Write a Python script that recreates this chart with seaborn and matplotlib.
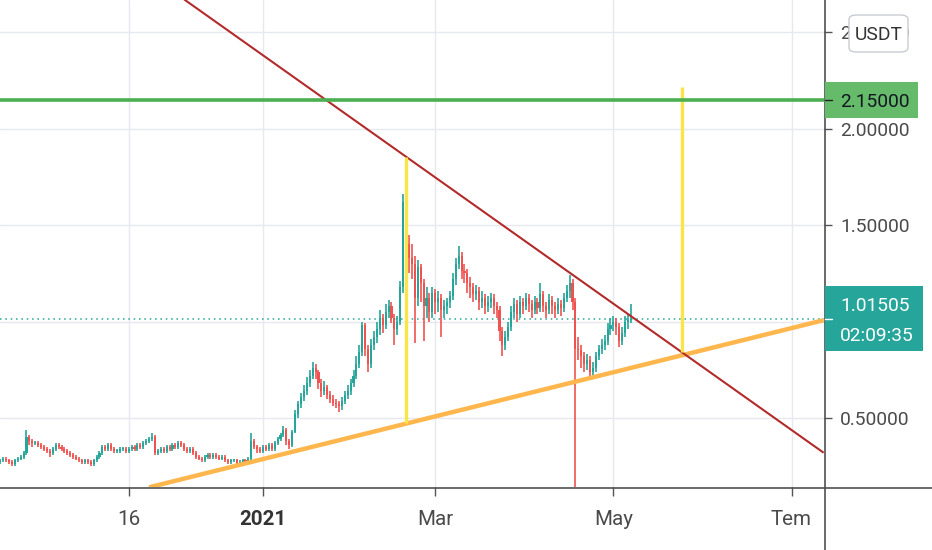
import matplotlib
matplotlib.use("Agg")
import matplotlib.pyplot as plt
import matplotlib.dates as mdates
from matplotlib.lines import Line2D
from matplotlib.patches import Rectangle, FancyBboxPatch
from matplotlib.transforms import blended_transform_factory
import numpy as np
import pandas as pd
import seaborn as sns

# daily candles, last one is 2021-05-07 (open = previous close)
first_open = 0.27
closes = [
    0.28, 0.29, 0.28, 0.27, 0.26, 0.28, 0.29, 0.30, 0.32, 0.40,
    0.38, 0.37, 0.37, 0.36, 0.35, 0.34, 0.33, 0.32, 0.34, 0.36,
    0.35, 0.34, 0.33, 0.32, 0.31, 0.30, 0.29, 0.28, 0.27, 0.28,
    0.27, 0.26, 0.28, 0.30, 0.32, 0.35, 0.34, 0.36, 0.34, 0.33,
    0.33, 0.34, 0.34, 0.33, 0.34, 0.35, 0.34, 0.36, 0.35, 0.37,
    0.38, 0.39, 0.40, 0.32, 0.33, 0.34, 0.33, 0.35, 0.34, 0.36,
    0.35, 0.37, 0.36, 0.34, 0.33, 0.34, 0.32, 0.30, 0.29, 0.28,
    0.30, 0.31, 0.30, 0.31, 0.30, 0.29, 0.30, 0.28, 0.27, 0.28,
    0.28, 0.26, 0.27, 0.28, 0.27, 0.29, 0.38, 0.35, 0.34, 0.33,
    0.35, 0.34, 0.36, 0.34, 0.37, 0.39, 0.41, 0.44, 0.38, 0.36,
    0.43, 0.52, 0.57, 0.61, 0.64, 0.68, 0.72, 0.76, 0.74, 0.68,
    0.64, 0.66, 0.62, 0.60, 0.58, 0.57, 0.56, 0.59, 0.62, 0.64,
    0.68, 0.72, 0.78, 0.84, 0.98, 0.86, 0.78, 0.88, 0.92, 0.96,
    1.02, 0.98, 1.05, 1.08, 1.02, 0.96, 1.00, 1.18, 1.62, 1.40,
    1.33, 1.30, 1.12, 1.28, 1.20, 1.08, 1.12, 1.05, 1.15, 1.10,
    1.12, 1.06, 1.08, 1.10, 1.13, 1.22, 1.30, 1.34, 1.26, 1.25,
    1.20, 1.18, 1.14, 1.16, 1.10, 1.12, 1.08, 1.10, 1.12, 1.08,
    1.06, 0.95, 0.88, 0.92, 0.97, 1.05, 1.09, 1.04, 1.10, 1.08,
    1.12, 1.09, 1.06, 1.10, 1.07, 1.14, 1.08, 1.06, 1.11, 1.08,
    1.06, 1.09, 1.07, 1.12, 1.16, 1.20, 1.10, 0.86, 0.85, 0.82,
    0.78, 0.80, 0.74, 0.76, 0.82, 0.86, 0.88, 0.90, 0.96, 0.98,
    1.00, 0.97, 0.90, 0.94, 1.00, 1.01, 1.015,
]
highs = [
    0.29, 0.30, 0.30, 0.29, 0.28, 0.29, 0.30, 0.31, 0.33, 0.44,
    0.41, 0.39, 0.38, 0.38, 0.37, 0.36, 0.35, 0.34, 0.35, 0.37,
    0.37, 0.36, 0.35, 0.34, 0.33, 0.32, 0.31, 0.30, 0.29, 0.29,
    0.29, 0.28, 0.29, 0.31, 0.33, 0.36, 0.36, 0.37, 0.37, 0.35,
    0.34, 0.35, 0.35, 0.35, 0.35, 0.36, 0.36, 0.37, 0.37, 0.38,
    0.39, 0.40, 0.42, 0.41, 0.34, 0.35, 0.35, 0.36, 0.36, 0.37,
    0.37, 0.38, 0.38, 0.37, 0.35, 0.35, 0.35, 0.33, 0.31, 0.30,
    0.31, 0.32, 0.32, 0.32, 0.32, 0.31, 0.31, 0.31, 0.29, 0.29,
    0.29, 0.29, 0.28, 0.29, 0.29, 0.30, 0.42, 0.39, 0.36, 0.35,
    0.36, 0.36, 0.37, 0.37, 0.38, 0.40, 0.42, 0.46, 0.45, 0.39,
    0.44, 0.54, 0.59, 0.63, 0.67, 0.71, 0.75, 0.79, 0.78, 0.75,
    0.70, 0.69, 0.67, 0.64, 0.62, 0.60, 0.59, 0.61, 0.64, 0.67,
    0.70, 0.75, 0.82, 0.88, 1.00, 0.99, 0.88, 0.91, 0.95, 1.00,
    1.06, 1.04, 1.09, 1.11, 1.10, 1.04, 1.03, 1.21, 1.66, 1.84,
    1.45, 1.40, 1.34, 1.32, 1.30, 1.22, 1.18, 1.15, 1.18, 1.17,
    1.16, 1.14, 1.11, 1.12, 1.16, 1.25, 1.33, 1.39, 1.36, 1.30,
    1.27, 1.23, 1.20, 1.19, 1.18, 1.16, 1.14, 1.13, 1.15, 1.14,
    1.10, 1.08, 0.97, 0.95, 1.00, 1.08, 1.12, 1.11, 1.13, 1.12,
    1.15, 1.14, 1.11, 1.13, 1.12, 1.20, 1.16, 1.10, 1.14, 1.13,
    1.10, 1.12, 1.11, 1.15, 1.19, 1.24, 1.22, 1.12, 0.92, 0.88,
    0.84, 0.83, 0.82, 0.79, 0.84, 0.88, 0.91, 0.93, 0.99, 1.02,
    1.03, 1.02, 0.99, 0.97, 1.03, 1.04, 1.09,
]
lows = [
    0.26, 0.27, 0.27, 0.26, 0.25, 0.25, 0.27, 0.28, 0.29, 0.31,
    0.36, 0.35, 0.36, 0.35, 0.34, 0.33, 0.32, 0.30, 0.31, 0.33,
    0.34, 0.33, 0.32, 0.31, 0.30, 0.29, 0.28, 0.27, 0.26, 0.26,
    0.26, 0.25, 0.25, 0.27, 0.29, 0.31, 0.33, 0.33, 0.33, 0.32,
    0.32, 0.32, 0.33, 0.32, 0.32, 0.33, 0.33, 0.33, 0.34, 0.34,
    0.36, 0.37, 0.38, 0.31, 0.31, 0.32, 0.32, 0.32, 0.33, 0.33,
    0.34, 0.34, 0.35, 0.33, 0.32, 0.32, 0.31, 0.29, 0.28, 0.27,
    0.27, 0.29, 0.29, 0.29, 0.29, 0.28, 0.28, 0.27, 0.26, 0.26,
    0.27, 0.25, 0.25, 0.26, 0.26, 0.26, 0.28, 0.34, 0.32, 0.32,
    0.32, 0.33, 0.33, 0.33, 0.33, 0.36, 0.38, 0.40, 0.36, 0.34,
    0.35, 0.42, 0.50, 0.55, 0.59, 0.62, 0.66, 0.70, 0.70, 0.65,
    0.61, 0.62, 0.60, 0.58, 0.56, 0.55, 0.53, 0.54, 0.57, 0.60,
    0.62, 0.66, 0.70, 0.76, 0.82, 0.82, 0.74, 0.76, 0.85, 0.89,
    0.93, 0.94, 0.96, 1.02, 0.99, 0.88, 0.93, 0.98, 1.15, 1.36,
    1.25, 1.22, 0.89, 1.08, 1.10, 0.90, 1.02, 1.00, 1.02, 1.04,
    1.05, 0.92, 1.02, 1.04, 1.07, 1.11, 1.19, 1.27, 1.22, 1.20,
    1.15, 1.12, 1.10, 1.11, 1.06, 1.07, 1.04, 1.05, 1.07, 1.04,
    1.02, 0.90, 0.82, 0.85, 0.90, 0.95, 1.02, 1.00, 1.02, 1.04,
    1.06, 1.05, 1.02, 1.04, 1.04, 1.05, 1.05, 1.02, 1.04, 1.04,
    1.02, 1.04, 1.03, 1.05, 1.10, 1.12, 1.06, 0.10, 0.80, 0.76,
    0.74, 0.75, 0.70, 0.71, 0.74, 0.80, 0.83, 0.85, 0.88, 0.93,
    0.95, 0.93, 0.87, 0.88, 0.92, 0.96, 0.99,
]
last_day = "2021-05-07"

price_ticks = [0.5, 1.0, 1.5, 2.0, 2.5]
price_labels = ["0.50000", "", "1.50000", "2.00000", "2.50000"]  # 1.00000 sits under the price badge
date_ticks = ["2020-11-16", "2021-01-01", "2021-03-01", "2021-05-01", "2021-07-01"]
date_labels = ["16", "2021", "Mar", "May", "Tem"]
view_start, view_end = "2020-10-02 22:20", "2021-07-12 03:00"
price_min, price_max = 0.1425, 2.666

resistance = 2.15
last_price = 1.01505
countdown = "02:09:35"
currency = "USDT"

# hand drawn lines: (date, price)
falling_line = [("2020-12-05", 2.669), ("2021-07-12", 0.320)]
rising_line = [("2020-11-23", 0.141), ("2021-07-12", 1.007)]
first_leg = [("2021-02-19", 0.474), ("2021-02-19", 1.852)]
target_leg = [("2021-05-24 12:00", 0.842), ("2021-05-24 12:00", 2.215)]

UP, DOWN = "#26a69a", "#ef5350"
TXT = "#4a4a4a"
FS = 13.8

sns.set_theme(style="white")
plt.rcParams["font.family"] = ["Roboto", "DejaVu Sans"]

W, H = 932, 550
fig = plt.figure(figsize=(W / 100, H / 100), dpi=100)
ax = fig.add_axes([0, 1 - 487 / H, 824 / W, 487 / H])

dates = pd.date_range(end=last_day, periods=len(closes), freq="D")
x = mdates.date2num(dates)
c = np.array(closes)
o = np.r_[first_open, c[:-1]]
col = np.where(c >= o, UP, DOWN)

ax.vlines(x, lows, highs, colors=col, linewidth=1.2, zorder=3)
body = np.maximum(np.abs(c - o), 0.005)
ax.bar(x, body, bottom=np.minimum(o, c), width=0.72, color=col, linewidth=0, zorder=4)

# drawings
def seg(points):
    xs = mdates.date2num(pd.to_datetime([p[0] for p in points]))
    return xs, [p[1] for p in points]

for pts, color, lw in [(rising_line, "#ffb74d", 3.2), (falling_line, "#b22a2a", 1.5),
                       (first_leg, "#f9e547", 2.4), (target_leg, "#f9e547", 2.4)]:
    xs, ys = seg(pts)
    sns.lineplot(x=xs, y=ys, ax=ax, color=color, linewidth=lw, estimator=None,
                 sort=False, zorder=6, solid_capstyle="butt")
ax.axhline(resistance, color="#4caf50", linewidth=2.6, zorder=6)
ax.axhline(last_price, color=UP, linewidth=1.1, linestyle=(0, (1, 2.5)), zorder=2)

ax.set_xlim(mdates.date2num(pd.Timestamp(view_start)), mdates.date2num(pd.Timestamp(view_end)))
ax.set_ylim(price_min, price_max)

ax.set_xticks(mdates.date2num(pd.to_datetime(date_ticks)))
ax.set_xticklabels(date_labels)
ax.set_yticks(price_ticks)
ax.set_yticklabels(price_labels)
ax.yaxis.tick_right()
ax.grid(True, color="#e6e9ef", linewidth=1.0, zorder=0)
ax.set_axisbelow(True)
for s in ax.spines.values():
    s.set_visible(False)
ax.tick_params(axis="y", right=True, left=False, length=5.8, width=1.0, color="#555555",
               pad=5.8, labelsize=FS, labelcolor=TXT)
ax.tick_params(axis="x", bottom=True, length=6.5, width=1.0, color="#555555",
               pad=10, labelsize=FS + 1, labelcolor=TXT)
for lab in ax.get_xticklabels():
    if lab.get_text() == "2021":
        lab.set_fontweight("bold")
        lab.set_color("#333333")
ax.set_xlabel("")
ax.set_ylabel("")

# axis lines spanning whole figure width / height
fig.add_artist(Line2D([0, 1], [1 - 487.5 / H] * 2, color="#505050", linewidth=1.2))
fig.add_artist(Line2D([824.5 / W] * 2, [0, 1], color="#505050", linewidth=1.2))

# price labels on the scale
tr = blended_transform_factory(fig.transFigure, ax.transData)
ppu = 487 / (price_max - price_min)  # pixels per price unit

def box(price, x1, h_px, color):
    fig.add_artist(Rectangle((824.5 / W, price - h_px / 2 / ppu), (x1 - 824.5) / W,
                             h_px / ppu, transform=tr, facecolor=color,
                             edgecolor="none", zorder=5))

box(resistance, 918, 36, "#66bb6a")
fig.add_artist(Line2D([824.5 / W, 832 / W], [resistance] * 2, transform=tr,
                      color="#222222", linewidth=1.0, zorder=6))
fig.text(840 / W, resistance, f"{resistance:.5f}", transform=tr, ha="left",
         va="center_baseline", fontsize=FS, color="#131722", zorder=7)

box(last_price, 923, 65, UP)
fig.add_artist(Line2D([824.5 / W, 832 / W], [last_price] * 2, transform=tr,
                      color="white", linewidth=1.0, zorder=6))
fig.text(840 / W, last_price + 15 / ppu, f"{last_price:.5f}", transform=tr, ha="left",
         va="center_baseline", fontsize=FS, color="white", zorder=7)
fig.text(840 / W, last_price - 15 / ppu, countdown, transform=tr, ha="left",
         va="center_baseline", fontsize=FS, color="white", zorder=7)

# currency badge
fig.add_artist(FancyBboxPatch((849 / W, 1 - 52 / H), 59 / W, 37 / H,
                              boxstyle="round,pad=0,rounding_size=0.008",
                              transform=fig.transFigure, facecolor="white",
                              edgecolor="#c9ccd3", linewidth=1.0, zorder=8))
fig.text(878.5 / W, 1 - 33.5 / H, currency, ha="center", va="center_baseline",
         fontsize=FS, color="#333333", zorder=9)

fig.savefig("out.png", dpi=100, facecolor="white")
